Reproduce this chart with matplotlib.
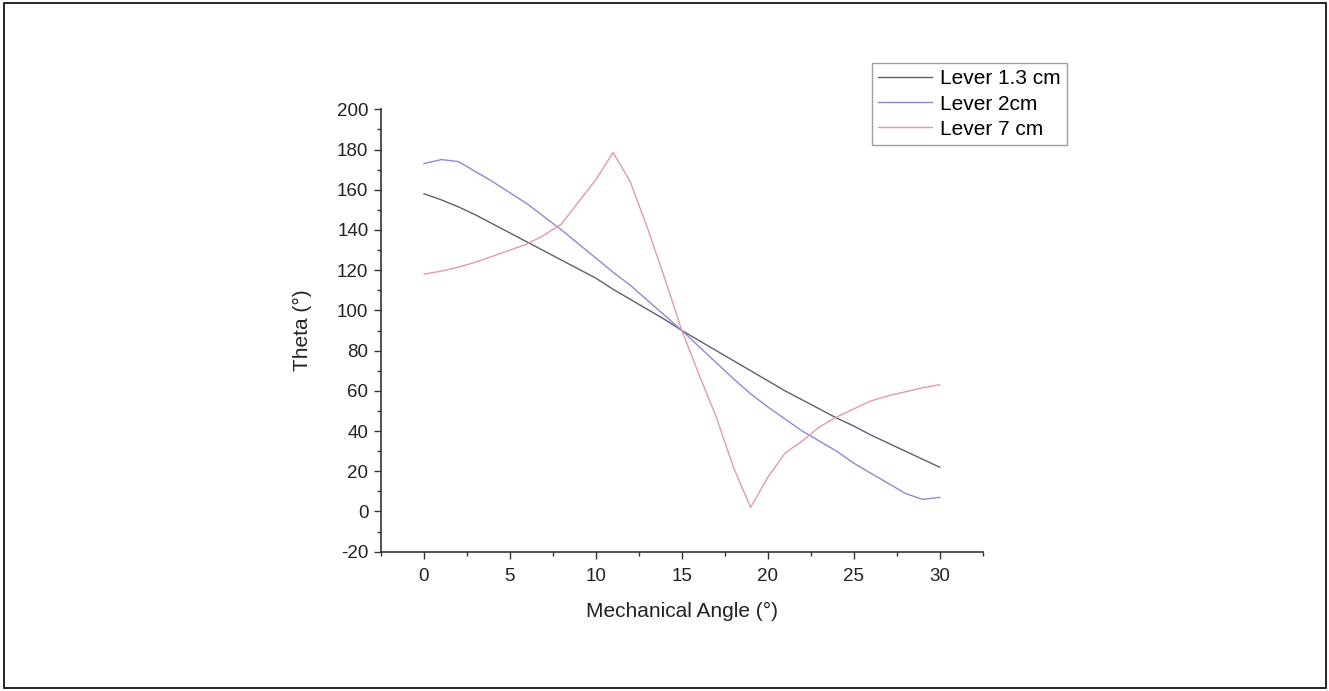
import matplotlib
matplotlib.use("Agg")
import matplotlib.pyplot as plt
import numpy as np
from matplotlib.patches import Rectangle
from matplotlib.ticker import MultipleLocator

plt.rcParams['font.family'] = ['Liberation Sans', 'DejaVu Sans']
plt.rcParams['axes.unicode_minus'] = False

# mechanical angle (deg)
angle = list(range(0, 31))

# theta values
lever_13 = [158, 155, 151.5, 147.5, 143, 138.5, 134, 129.5, 125, 120.5, 116,
            110.5, 105.5, 100.5, 95.5, 90, 85, 80, 75, 70, 65, 60, 55.5, 51,
            46.5, 42.5, 38, 34, 30, 26, 22]
lever_2 = [173, 175, 174, 169, 164, 158.5, 153, 146.5, 140, 133, 126, 119,
           112.5, 105, 97.5, 90, 82, 74, 66, 58.5, 52, 46, 40, 35, 30, 24,
           19, 14, 9, 6, 7]
lever_7 = [118, 119.5, 121.5, 124, 127, 130, 133, 137.5, 143, 154, 165, 178.5,
           164, 141, 116, 90, 68, 47, 22, 2, 17, 29, 35, 42, 47, 51, 55, 57.5,
           59.5, 61.5, 63]

labels = ["Lever 1.3 cm", "Lever 2cm", "Lever 7 cm"]
colors = ["#5f5f6f", "#8a8ad6", "#e39aa8"]

W, H = 1329, 691
fig = plt.figure(figsize=(W / 100, H / 100), dpi=100)

# outer frame of the picture
fig.patches.append(Rectangle((3.5 / W, 3 / H), (1326 - 3.5) / W, (688 - 3) / H,
                             transform=fig.transFigure, fill=False,
                             edgecolor="black", linewidth=1.2))

left, right = 381 / W, 982.7 / W
bottom, top = 1 - 551.7 / H, 1 - 109.3 / H
ax = fig.add_axes([left, bottom, right - left, top - bottom])

for ys, lab, c in zip([lever_13, lever_2, lever_7], labels, colors):
    ax.plot(angle, ys, color=c, linewidth=1.0, label=lab)

ax.set_xlim(-2.5, 32.5)
ax.set_ylim(-20, 200)
ax.xaxis.set_major_locator(MultipleLocator(5))
ax.xaxis.set_minor_locator(MultipleLocator(2.5))
ax.yaxis.set_major_locator(MultipleLocator(20))
ax.yaxis.set_minor_locator(MultipleLocator(10))

for s in ["top", "right"]:
    ax.spines[s].set_visible(False)
for s in ["left", "bottom"]:
    ax.spines[s].set_color("#333333")
    ax.spines[s].set_linewidth(1.2)

ax.tick_params(which="major", direction="out", length=5, width=1.0,
               colors="#333333", labelsize=13.5, labelcolor="#222222")
ax.tick_params(which="minor", direction="out", length=3, width=1.0,
               colors="#333333")
ax.tick_params(axis="y", pad=4)
ax.tick_params(axis="x", pad=7)

ax.set_xlabel("Mechanical Angle (°)", fontsize=15, labelpad=12, color="#222222")
ax.set_ylabel("Theta (°)", fontsize=15, labelpad=18, color="#222222")

leg = fig.legend(loc="upper left", bbox_to_anchor=(872 / W, 1 - 63 / H),
                 fontsize=15, frameon=True, fancybox=False, borderpad=0.3,
                 handlelength=2.6, handletextpad=0.35, labelspacing=0.3,
                 borderaxespad=0)
leg.get_frame().set_edgecolor("#888888")
leg.get_frame().set_linewidth(1.0)

fig.savefig("out.png", dpi=100)
